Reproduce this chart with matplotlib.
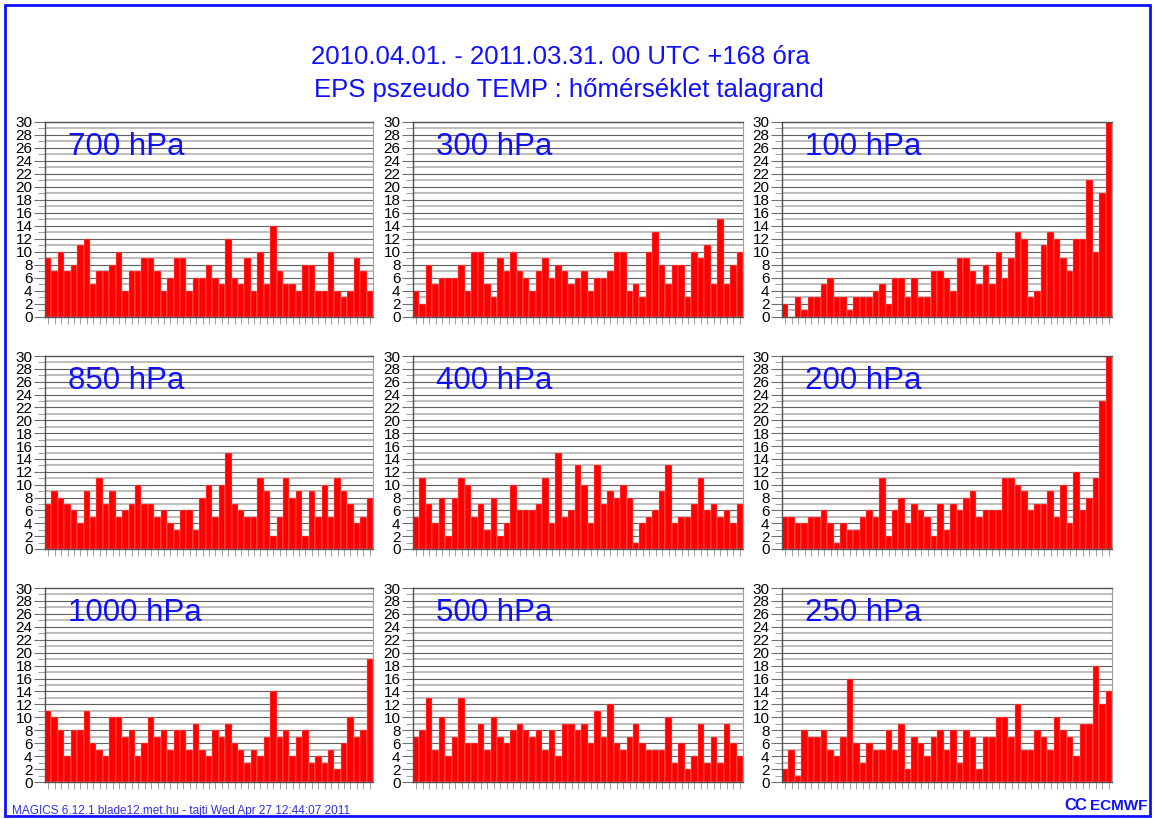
import numpy as np
import matplotlib
matplotlib.use("Agg")
import matplotlib.pyplot as plt
from matplotlib.patches import Rectangle

plt.rcParams["font.family"] = ["Liberation Sans", "DejaVu Sans"]

# rank histogram counts (51 bins) for each level
levels = ["700 hPa", "300 hPa", "100 hPa",
          "850 hPa", "400 hPa", "200 hPa",
          "1000 hPa", "500 hPa", "250 hPa"]

h700 = [9, 7, 10, 7, 8, 11, 12, 5, 7, 7, 8, 10, 4, 7, 7, 9, 9, 7, 4, 6,
        9, 9, 4, 6, 6, 8, 6, 5, 12, 6, 5, 9, 4, 10, 5, 14, 7, 5, 5, 4,
        8, 8, 4, 4, 10, 4, 3, 4, 9, 7, 4]
h300 = [4, 2, 8, 5, 6, 6, 6, 8, 4, 10, 10, 5, 3, 9, 7, 10, 7, 6, 4, 7,
        9, 6, 8, 7, 5, 6, 7, 4, 6, 6, 7, 10, 10, 4, 5, 3, 10, 13, 8, 5,
        8, 8, 3, 10, 9, 11, 5, 15, 5, 8, 10]
h100 = [2, 0, 3, 1, 3, 3, 5, 6, 3, 3, 1, 3, 3, 3, 4, 5, 2, 6, 6, 3,
        6, 3, 3, 7, 7, 6, 4, 9, 9, 7, 5, 8, 5, 10, 6, 9, 13, 12, 3, 4,
        11, 13, 12, 9, 7, 12, 12, 21, 10, 19, 30]
h850 = [7, 9, 8, 7, 6, 4, 9, 5, 11, 7, 9, 5, 6, 7, 10, 7, 7, 5, 6, 4,
        3, 6, 6, 3, 8, 10, 5, 10, 15, 7, 6, 5, 5, 11, 9, 2, 5, 11, 8, 9,
        2, 9, 5, 10, 5, 11, 9, 7, 4, 5, 8]
h400 = [5, 11, 7, 4, 8, 2, 8, 11, 10, 5, 7, 3, 8, 2, 4, 10, 6, 6, 6, 7,
        11, 4, 15, 5, 6, 13, 10, 4, 13, 7, 9, 8, 10, 8, 1, 4, 5, 6, 9, 13,
        4, 5, 5, 7, 11, 6, 7, 5, 6, 4, 7]
h200 = [5, 5, 4, 4, 5, 5, 6, 4, 1, 4, 3, 3, 5, 6, 5, 11, 2, 6, 8, 4,
        7, 6, 5, 2, 7, 3, 7, 6, 8, 9, 5, 6, 6, 6, 11, 11, 10, 9, 6, 7,
        7, 9, 5, 10, 4, 12, 6, 8, 11, 23, 30]
h1000 = [11, 10, 8, 4, 8, 8, 11, 6, 5, 4, 10, 10, 7, 8, 4, 6, 10, 7, 8, 5,
         8, 8, 5, 9, 5, 4, 8, 7, 9, 6, 5, 3, 5, 4, 7, 14, 7, 8, 4, 7,
         8, 3, 4, 3, 5, 2, 6, 10, 7, 8, 19]
h500 = [7, 8, 13, 5, 10, 4, 7, 13, 6, 6, 9, 5, 10, 7, 6, 8, 9, 8, 7, 8,
        5, 8, 4, 9, 9, 8, 9, 6, 11, 7, 12, 6, 5, 7, 9, 6, 5, 5, 5, 10,
        3, 6, 2, 4, 9, 3, 7, 3, 9, 6, 4]
h250 = [2, 5, 1, 8, 7, 7, 8, 5, 4, 7, 16, 6, 3, 6, 5, 5, 8, 5, 9, 2,
        7, 6, 4, 7, 8, 5, 8, 3, 8, 7, 2, 7, 7, 10, 10, 7, 12, 5, 5, 8,
        7, 5, 10, 8, 7, 4, 9, 9, 18, 12, 14]

counts = [h700, h300, h100, h850, h400, h200, h1000, h500, h250]

title1 = "2010.04.01. - 2011.03.31. 00 UTC +168 óra"
title2 = "EPS pszeudo TEMP : hőmérséklet talagrand"
footer = "MAGICS 6.12.1 blade12.met.hu - tajti Wed Apr 27 12:44:07 2011"

W, H = 1155, 819
fig = plt.figure(figsize=(W / 100, H / 100), dpi=100)

# panel edges in pixels
lefts = [45, 413, 782]
rights = [373, 743, 1112]
tops = [122, 356, 588]
bottoms = [317, 549, 782]

blue = "#1010ff"

for k, (name, vals) in enumerate(zip(levels, counts)):
    r, c = divmod(k, 3)
    ax = fig.add_axes([lefts[c] / W, 1 - bottoms[r] / H,
                       (rights[c] - lefts[c]) / W, (bottoms[r] - tops[r]) / H])
    n = len(vals)
    x = np.arange(n)
    # grid lines every unit, alternating dark/light
    for yv in range(1, 30):
        if yv % 2 == 0:
            ax.axhline(yv, color="#606060", lw=0.8, zorder=1)
        else:
            ax.axhline(yv, color="#b8b8b8", lw=1.3, zorder=1)
    ax.bar(x, vals, width=1.0, color="#ff0000", edgecolor="#ff9a9a",
           linewidth=0.3, zorder=2)
    ax.set_xlim(-0.5, n - 0.5)
    ax.set_ylim(0, 30)
    ax.set_yticks(range(0, 31, 2))
    ax.set_yticks(range(0, 31, 1), minor=True)
    ax.tick_params(axis="y", which="major", length=8, width=0.8,
                   color="#707070", labelsize=11, pad=1)
    ax.tick_params(axis="y", which="minor", length=5, width=0.6,
                   color="#909090")
    ax.set_xticks(x)
    ax.set_xticklabels([])
    ax.tick_params(axis="x", length=5, width=0.6, color="#909090")
    for side in ["left", "bottom", "top"]:
        ax.spines[side].set_color("#505050")
        ax.spines[side].set_linewidth(1.0)
    ax.spines["right"].set_color("#a0a0a0")
    ax.text(0.07, 0.87, name, transform=ax.transAxes, fontsize=22.5,
            color=blue, va="center", ha="left", zorder=3)

fig.text(560 / W, 1 - 57 / H, title1, color=blue, fontsize=18.5,
         ha="center", va="center")
fig.text(569 / W, 1 - 90 / H, title2, color=blue, fontsize=18.5,
         ha="center", va="center")
fig.text(12 / W, 1 - 811 / H, footer, color="#3030e0", fontsize=8.5,
         ha="left", va="center")

# ECMWF logo, text only
fig.text(1064 / W, 1 - 806 / H, "C", color=blue, fontsize=12,
         fontweight="bold", ha="left", va="center")
fig.text(1074 / W, 1 - 806 / H, "C", color=blue, fontsize=12,
         fontweight="bold", ha="left", va="center")
fig.text(1090 / W, 1 - 806 / H, "ECMWF", color=blue, fontsize=11,
         fontweight="bold", ha="left", va="center")

# blue frame around the page
fig.patches.append(Rectangle((5 / W, 3 / H), 1145 / W, 811 / H,
                             transform=fig.transFigure, fill=False,
                             edgecolor=blue, lw=2))

fig.savefig("out.png", dpi=100, facecolor="white")
